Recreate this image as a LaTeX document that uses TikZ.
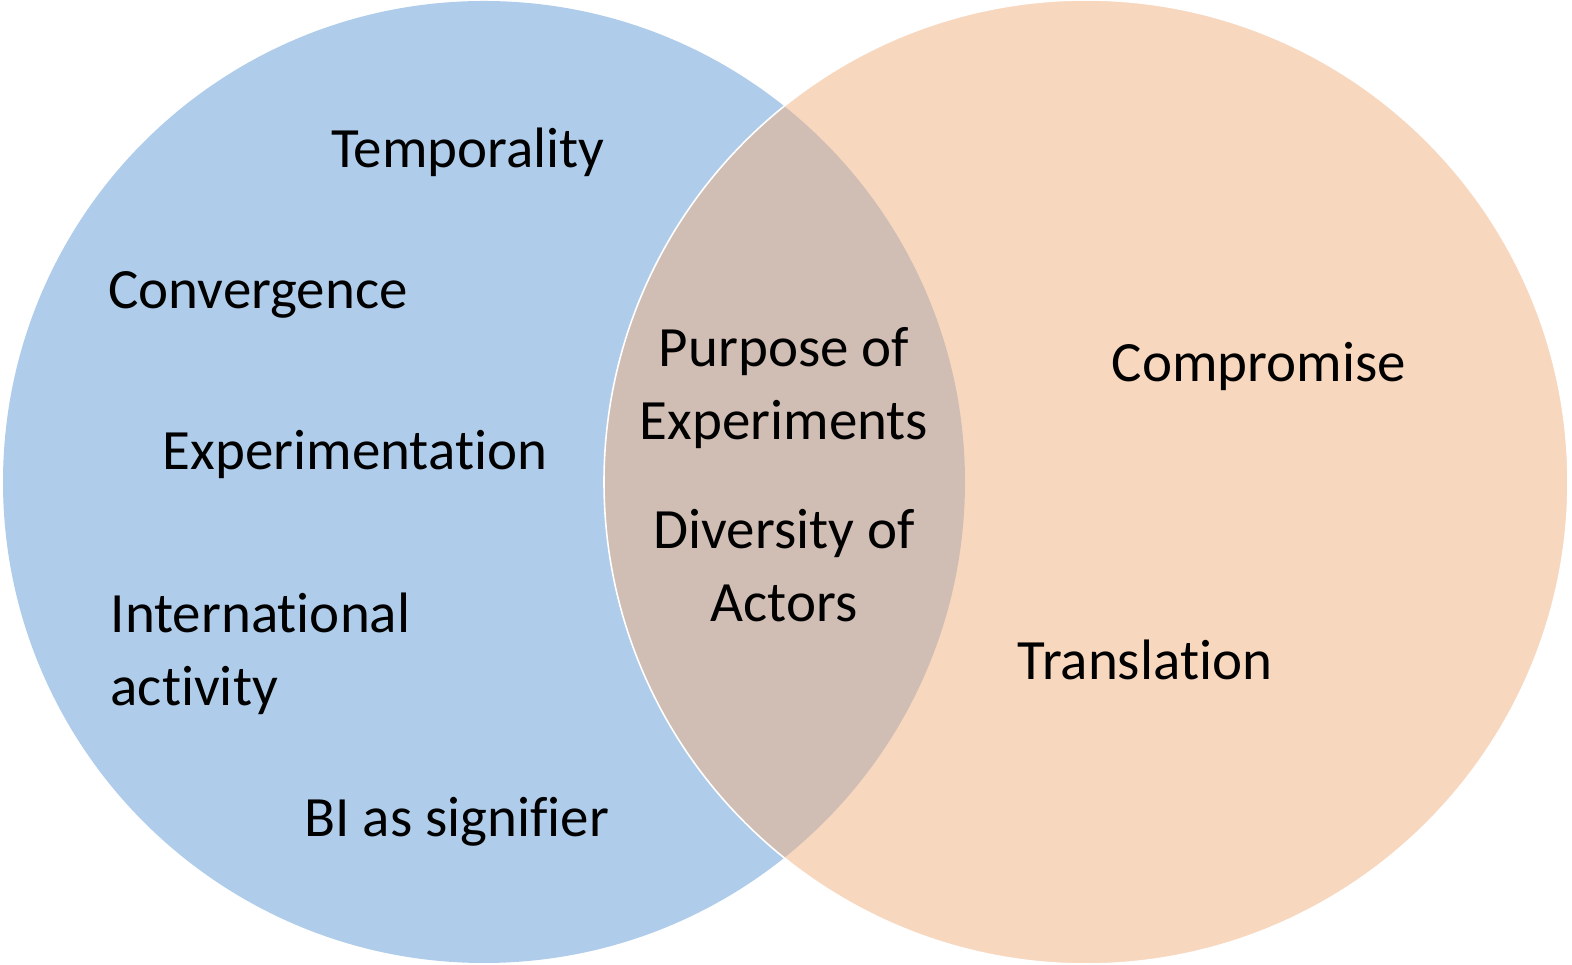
\documentclass[tikz,border=0pt]{standalone}
\usepackage{fontspec}
\setmainfont{Carlito}[Ligatures=NoCommon]
\definecolor{setblue}{RGB}{175,205,234}
\definecolor{setorange}{RGB}{241,175,127}

\begin{document}
\begin{tikzpicture}[
        x=0.01cm, y=-0.01cm,
        font=\fontsize{16.2}{20.8}\selectfont,
        leftset/.style={fill=setblue, draw=none},
        rightset/.style={fill=setorange, fill opacity=0.5, draw=white, line width=0.45pt},
        lbl/.style={text=black, inner sep=0pt, align=center},
        lbll/.style={text=black, inner sep=0pt, align=left, anchor=west}
    ]

    \useasboundingbox (0,0) rectangle (1572,965);

    % Circles
    \fill[leftset] (484,482) circle[radius=481];
    \filldraw[rightset] (1086,482) circle[radius=482];

    % Left circle only
    \node[lbl] (temp) at (468,152) {Temporality};
    \node[lbl] (conv) at (258,295) {Convergence};
    \node[lbl] (expt) at (355,455) {Experimentation};
    \node[lbll] (intl) at (110,654) {International\\activity};
    \node[lbl] (bisig) at (457,822) {BI as signifier};

    % Overlap
    \node[lbl] (purp) at (784,388) {Purpose of\\Experiments};
    \node[lbl] (divs) at (784,566) {Diversity of\\Actors};

    % Right circle only
    \node[lbl] (comp) at (1259,367) {Compromise};
    \node[lbl] (trans) at (1145,660) {Translation};

\end{tikzpicture}
\end{document}
